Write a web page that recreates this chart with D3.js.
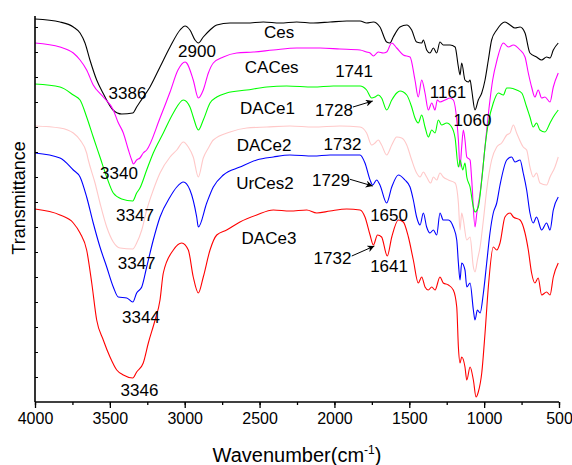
<!DOCTYPE html>
<html>
<head>
<meta charset="utf-8">
<script src="https://cdn.jsdelivr.net/npm/d3@7"></script>
<style>
  body { margin: 0; background: #fff; }
  text { font-family: Arial, "Liberation Sans", sans-serif; }
</style>
</head>
<body>
<div class="ftir"></div>
<script>
// wavenumber (cm-1), transmittance (a.u., stacked)
var ces = [[4000,383],[3833,380],[3744,375],[3699,369],[3666,359],[3633,342],[3588,322],[3546,309],[3479,292],[3421,288],[3347,289],[3321,295],[3299,300],[3232,315],[3165,335],[3098,355],[3031,372],[2998,376],[2965,372],[2931,362],[2909,359],[2876,365],[2831,372],[2786,377],[2697,379],[2586,379],[2475,380],[2363,379],[2252,380],[2141,379],[2029,380],[1918,381],[1829,381],[1785,379],[1740,380],[1696,375],[1651,360],[1629,359],[1607,365],[1562,375],[1517,377],[1484,372],[1451,360],[1417,359],[1406,362],[1384,352],[1362,349],[1339,354],[1317,349],[1295,360],[1273,357],[1228,357],[1194,355],[1172,335],[1161,327],[1150,339],[1128,322],[1105,320],[1094,322],[1083,312],[1061,292],[1039,302],[1016,309],[994,322],[972,342],[950,362],[916,372],[861,380],[827,377],[794,374],[760,375],[727,369],[694,349],[650,345],[616,342],[583,345],[560,344],[538,352],[505,359]];

var caces = [[4000,359],[3833,355],[3744,349],[3699,342],[3655,332],[3611,317],[3544,305],[3477,292],[3446,280],[3410,269],[3376,252],[3354,242],[3343,238],[3321,242],[3299,244],[3277,249],[3254,252],[3165,284],[3098,310],[3045,332],[2998,340],[2987,339],[2943,322],[2909,304],[2876,312],[2842,329],[2809,339],[2742,345],[2653,349],[2542,350],[2408,352],[2252,354],[2096,354],[1963,353],[1829,352],[1785,350],[1762,349],[1740,346],[1707,350],[1674,349],[1651,350],[1617,359],[1584,354],[1540,347],[1495,345],[1462,322],[1440,305],[1417,322],[1395,309],[1373,292],[1350,299],[1328,292],[1313,302],[1295,300],[1261,302],[1228,304],[1206,302],[1172,262],[1161,235],[1150,255],[1139,272],[1128,262],[1116,245],[1094,242],[1083,222],[1061,175],[1049,189],[1027,209],[1005,239],[983,272],[961,302],[943,322],[914,342],[872,359],[838,355],[805,357],[760,352],[727,345],[705,329],[683,315],[661,305],[639,312],[616,304],[594,305],[560,300],[538,315],[505,329]];

var dace1 = [[4000,318],[3833,315],[3744,307],[3699,302],[3655,285],[3611,265],[3566,245],[3521,225],[3477,209],[3421,203],[3347,201],[3321,209],[3299,214],[3254,232],[3210,249],[3143,269],[3076,289],[3009,302],[2965,295],[2943,285],[2909,272],[2876,282],[2831,299],[2786,305],[2720,309],[2586,312],[2452,315],[2319,316],[2141,315],[2007,316],[1829,316],[1785,312],[1751,304],[1729,305],[1707,307],[1685,304],[1651,292],[1617,302],[1584,309],[1562,311],[1517,307],[1484,295],[1462,284],[1440,279],[1417,287],[1395,275],[1373,265],[1350,272],[1328,269],[1306,282],[1284,277],[1250,279],[1217,275],[1194,264],[1172,235],[1161,242],[1143,232],[1128,239],[1116,225],[1094,215],[1072,195],[1061,190],[1039,195],[1016,222],[994,255],[972,279],[939,299],[905,309],[872,307],[849,314],[827,314],[783,312],[749,309],[716,295],[694,285],[672,275],[650,279],[627,272],[594,270],[560,279],[538,285],[505,292]];

var dace2 = [[4000,276],[3833,274],[3744,269],[3699,262],[3655,249],[3644,242],[3599,219],[3566,199],[3521,175],[3477,160],[3432,154],[3347,153],[3321,159],[3287,172],[3254,192],[3210,212],[3165,229],[3098,245],[3053,252],[3009,260],[2976,255],[2943,245],[2909,225],[2876,244],[2842,254],[2809,262],[2697,270],[2586,274],[2452,275],[2297,276],[2141,275],[1963,276],[1829,275],[1785,269],[1751,257],[1729,259],[1707,262],[1685,257],[1651,247],[1617,257],[1584,265],[1551,264],[1517,257],[1484,242],[1451,229],[1428,225],[1406,230],[1384,225],[1357,219],[1339,225],[1317,222],[1295,229],[1273,225],[1239,222],[1194,219],[1172,199],[1161,172],[1150,189],[1139,182],[1116,162],[1094,165],[1072,135],[1061,130],[1045,142],[1027,155],[1005,182],[983,212],[950,242],[916,255],[883,259],[849,267],[827,269],[805,277],[783,269],[739,255],[716,252],[694,235],[672,225],[650,229],[627,219],[583,217],[560,225],[527,235],[505,245]];

var urces2 = [[4000,249],[3833,244],[3744,232],[3699,225],[3655,205],[3611,179],[3566,155],[3521,135],[3477,115],[3444,105],[3387,104],[3347,100],[3321,109],[3287,115],[3254,135],[3210,162],[3165,185],[3098,205],[3053,215],[3009,220],[2965,212],[2920,185],[2909,175],[2853,199],[2809,215],[2742,227],[2631,235],[2519,242],[2408,245],[2297,247],[2141,246],[2029,247],[1874,247],[1829,247],[1796,239],[1762,222],[1745,217],[1718,222],[1696,217],[1651,199],[1617,215],[1573,227],[1529,222],[1495,215],[1473,202],[1451,185],[1428,177],[1406,189],[1384,175],[1362,169],[1339,172],[1317,167],[1295,189],[1273,182],[1239,182],[1206,175],[1183,162],[1172,139],[1161,122],[1150,139],[1128,132],[1116,115],[1094,119],[1072,92],[1061,82],[1045,92],[1027,89],[1005,109],[983,139],[961,169],[939,189],[916,199],[894,217],[849,242],[816,245],[794,240],[760,242],[739,229],[716,212],[694,189],[672,179],[650,185],[616,172],[583,179],[560,172],[538,192],[505,205]];

var dace3 = [[4000,193],[3833,187],[3744,179],[3699,169],[3655,152],[3621,119],[3588,82],[3544,62],[3499,45],[3454,32],[3410,27],[3347,24],[3321,30],[3277,39],[3243,59],[3198,82],[3165,102],[3143,129],[3076,152],[3020,159],[2976,152],[2943,125],[2909,109],[2876,125],[2831,152],[2786,167],[2720,172],[2631,180],[2519,187],[2408,192],[2297,191],[2185,192],[2118,189],[2029,191],[1918,193],[1829,192],[1796,185],[1762,167],[1740,157],[1712,167],[1685,165],[1647,146],[1617,165],[1573,182],[1540,180],[1506,165],[1473,142],[1440,119],[1417,125],[1395,115],[1373,112],[1350,115],[1328,112],[1295,125],[1273,119],[1239,117],[1206,112],[1183,95],[1172,55],[1161,39],[1150,45],[1128,35],[1116,22],[1094,35],[1072,22],[1054,5],[1039,10],[1016,29],[994,69],[972,115],[939,155],[916,152],[894,159],[861,185],[827,189],[805,185],[760,182],[727,169],[705,152],[683,129],[661,119],[639,124],[616,107],[583,110],[560,107],[538,125],[505,139]];

var seriesNames = ["Ces", "CACes", "DACe1", "DACe2", "UrCes2", "DACe3"];
var seriesData = [ces, caces, dace1, dace2, urces2, dace3];
var seriesColors = ["#000000", "#ff00ff", "#00ff00", "#ffc8c8", "#0000ff", "#ff0000"];

// name labels and peak labels: [text, wavenumber, transmittance]
var nameLabels = [["Ces",2370,370],["CACes",2419,335],["DACe1",2447,294.5],["DACe2",2470,257.5],["UrCes2",2464,219],["DACe3",2437,164.5]];
var peakLabels = [["3386",3382,309],["2900",2918,351],["1741",1869,331.5],["1728",2003,292],["1161",1241,310],["1060",1078,282.5],
    ["1732",1946,258.5],["3340",3439,229],["1729",2023,222],["3347",3332,187],["1650",1635,187],["3347",3321,139],
    ["1732",2013,144],["1641",1635,136],["3344",3292,85],["3346",3302,12]];
// arrows: [from w, from T, to w, to T]
var arrows = [[1876,295,1744,301],[1896,222.7,1744,216],[1884,146,1733,156]];

var xTicks = [4000, 3500, 3000, 2500, 2000, 1500, 1000, 500];

var width = 572, height = 465;
var margin = {top: 16, right: 13, bottom: 63, left: 35};

var svg = d3.select(".ftir").append("svg")
    .attr("width", width)
    .attr("height", height);

var x = d3.scaleLinear()
    .domain([4000, 500])
    .range([margin.left, width - margin.right]);

var y = d3.scaleLinear()
    .domain([0, 386])
    .range([height - margin.bottom, margin.top]);

var line = d3.line()
    .x(d => x(d[0]))
    .y(d => y(d[1]))
    .curve(d3.curveMonotoneX);

svg.append("g")
    .selectAll("path")
    .data(seriesData)
    .enter().append("path")
    .attr("d", line)
    .attr("fill", "none")
    .attr("stroke", (d, i) => seriesColors[i])
    .attr("stroke-width", 1.1)
    .attr("stroke-linejoin", "round");

// x axis
var xAxis = svg.append("g")
    .attr("transform", `translate(0,${height - margin.bottom})`);
xAxis.call(d3.axisBottom(x).tickValues(d3.range(4000, 499, -250)).tickSize(3).tickFormat(""))
    .call(g => g.select(".domain").remove());
xAxis.append("g")
    .call(d3.axisBottom(x).tickValues(xTicks).tickSize(6).tickPadding(5).tickFormat(d3.format("d")))
    .call(g => g.select(".domain").remove())
    .call(g => g.selectAll("text").attr("font-size", 16).attr("fill", "#000").style("font-family", "Arial, 'Liberation Sans', sans-serif"));
xAxis.selectAll("line").attr("stroke", "#000").attr("stroke-width", 1.3);
xAxis.append("line")
    .attr("x1", margin.left).attr("x2", width - margin.right)
    .attr("stroke", "#000").attr("stroke-width", 1.6);

// y axis, unlabeled minor ticks pointing inward
var yAxis = svg.append("g")
    .attr("transform", `translate(${margin.left},0)`);
yAxis.call(d3.axisRight(y).tickValues(d3.range(25, 386, 25)).tickSize(3).tickFormat(""))
    .call(g => g.select(".domain").remove());
yAxis.selectAll("line").attr("stroke", "#000").attr("stroke-width", 1);
yAxis.append("line")
    .attr("y1", margin.top).attr("y2", height - margin.bottom)
    .attr("stroke", "#000").attr("stroke-width", 1.6);

// axis titles
var xt = svg.append("text")
    .attr("x", (margin.left + width - margin.right) / 2)
    .attr("y", 462)
    .attr("text-anchor", "middle")
    .attr("font-size", 20)
    .text("Wavenumber(cm");
xt.append("tspan").attr("dy", -8).attr("font-size", 12).text("-1");
xt.append("tspan").attr("dy", 8).text(")");

svg.append("text")
    .attr("transform", "translate(25,198) rotate(-90)")
    .attr("text-anchor", "middle")
    .attr("font-size", 18)
    .text("Transmittance");

// labels
svg.append("g")
    .selectAll("text")
    .data(nameLabels.concat(peakLabels))
    .enter().append("text")
    .attr("x", d => x(d[1]))
    .attr("y", d => y(d[2]))
    .attr("dy", "0.36em")
    .attr("text-anchor", "middle")
    .attr("font-size", 17)
    .text(d => d[0]);

svg.append("defs").append("marker")
    .attr("id", "head")
    .attr("viewBox", "0 0 10 10")
    .attr("refX", 10).attr("refY", 5)
    .attr("markerWidth", 9).attr("markerHeight", 7)
    .attr("markerUnits", "userSpaceOnUse")
    .attr("orient", "auto")
    .append("path")
    .attr("d", "M0,0L10,5L0,10L3,5Z")
    .attr("fill", "#000");

svg.append("g")
    .selectAll("line")
    .data(arrows)
    .enter().append("line")
    .attr("x1", d => x(d[0])).attr("y1", d => y(d[1]))
    .attr("x2", d => x(d[2])).attr("y2", d => y(d[3]))
    .attr("stroke", "#000")
    .attr("stroke-width", 1)
    .attr("marker-end", "url(#head)");
</script>
</body>
</html>
